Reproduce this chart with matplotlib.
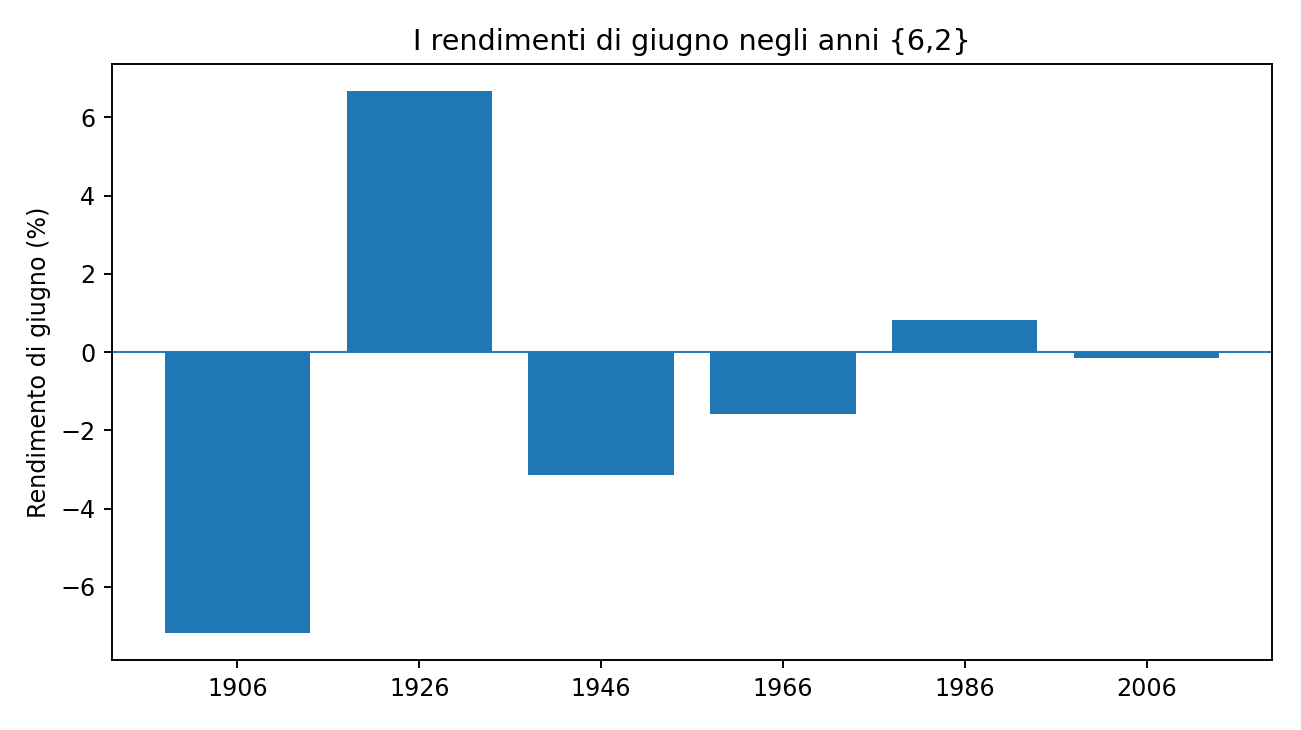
import matplotlib
matplotlib.use("Agg")
import matplotlib.pyplot as plt

years = ["1906", "1926", "1946", "1966", "1986", "2006"]
returns = [-7.18, 6.67, -3.15, -1.59, 0.83, -0.15]

dpi = 172
fig, ax = plt.subplots(figsize=(1301/dpi, 730/dpi), dpi=dpi)
ax.bar(years, returns, color="#1f77b4")
ax.axhline(0, color="#1f77b4", linewidth=0.8)
ax.set_title("I rendimenti di giugno negli anni {6,2}")
ax.set_ylabel("Rendimento di giugno (%)")
fig.subplots_adjust(left=112/1301, right=1272/1301, top=1-64/730, bottom=1-660/730)
fig.savefig("out.png")
